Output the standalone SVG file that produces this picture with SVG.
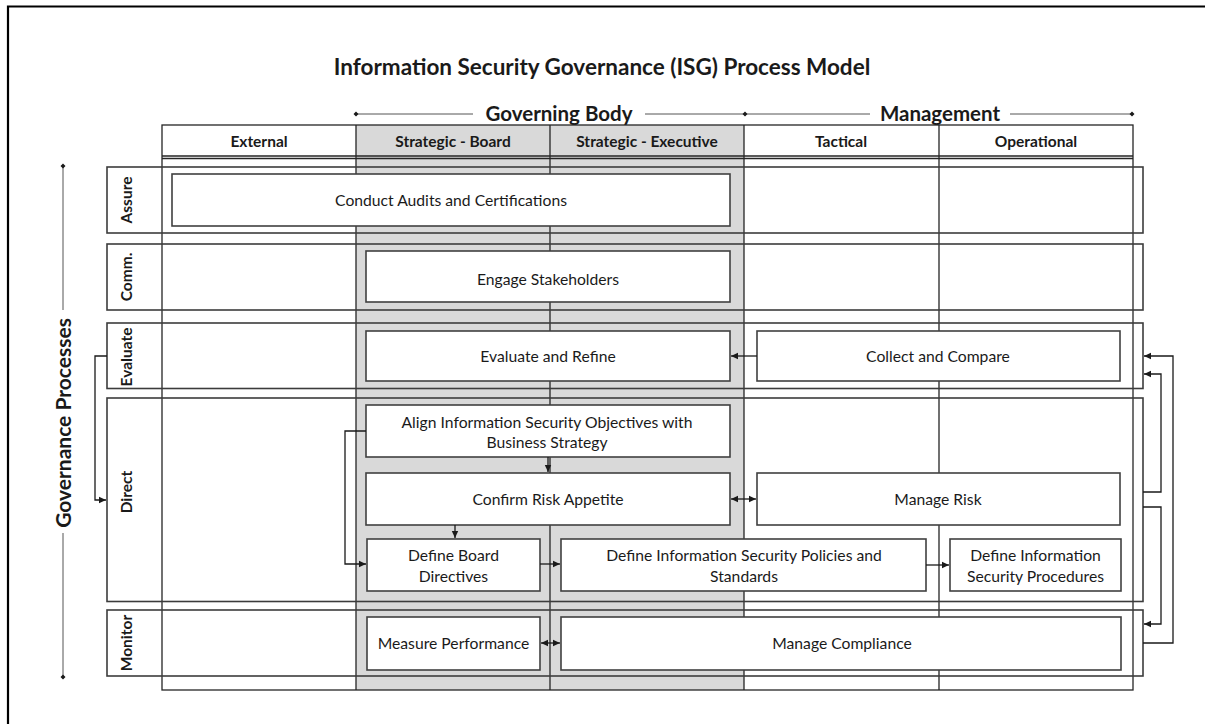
<svg xmlns="http://www.w3.org/2000/svg" width="1205" height="724" viewBox="0 0 1205 724">
<style>
.t{font-family:Lato,"Open Sans","Liberation Sans",sans-serif;fill:#1a1a1a}
.ti{font-size:22.5px;font-weight:bold}
.hd{font-size:20.5px;font-weight:bold}
.gp{font-size:21px;font-weight:bold}
.ch{font-size:15.5px;font-weight:bold}
.rl{font-size:15.5px;font-weight:bold}
.pt{font-size:15.7px}
.grid{stroke:#262626;stroke-width:1.3;fill:none}
.row{stroke:#3c3c3c;stroke-width:1.6;fill:none}
.box{fill:#fff;stroke:#404040;stroke-width:1.6}
.cn{stroke:#1a1a1a;stroke-width:1.3;fill:none}
.ln{stroke:#555;stroke-width:1;fill:none}
.dm{fill:#1a1a1a}
</style>
<defs>
<marker id="ah" markerUnits="userSpaceOnUse" markerWidth="8" markerHeight="8" refX="7" refY="4" orient="auto-start-reverse">
<path d="M0,0.8 L7,4 L0,7.2 Z" fill="#1a1a1a"/>
</marker>
</defs>
<rect width="1205" height="724" fill="#fff"/>
<path d="M8,724 V6.5 H1205" stroke="#000" stroke-width="2.2" fill="none"/>

<g id="title">
<text class="t ti" x="602" y="75" text-anchor="middle">Information Security Governance (ISG) Process Model</text>
</g>

<g id="header-groups">
<path class="ln" d="M356,114 H473 M645,114 H745 M745,114 H870 M1010,114 H1132"/>
<path class="dm" d="M356,111.5 L358.5,114 L356,116.5 L353.5,114 Z M745,111.5 L747.5,114 L745,116.5 L742.5,114 Z M1132,111.5 L1134.5,114 L1132,116.5 L1129.5,114 Z"/>
<text class="t hd" x="559" y="121" text-anchor="middle">Governing Body</text>
<text class="t hd" x="940" y="121" text-anchor="middle">Management</text>
</g>

<g id="governance-axis">
<path class="ln" d="M63,166 V310 M63,533 V677"/>
<path class="dm" d="M63,163.5 L65.5,166 L63,168.5 L60.5,166 Z M63,674.5 L65.5,677 L63,679.5 L60.5,677 Z"/>
<text class="t gp" transform="translate(71,423) rotate(-90)" text-anchor="middle">Governance Processes</text>
</g>

<g id="table">
<rect x="356" y="125" width="388" height="565" fill="#d9d9d9"/>
<rect class="grid" x="162" y="125" width="971" height="565"/>
<path class="grid" d="M356,125 V690 M550,125 V690 M744,125 V690 M939,125 V690 M162,156 H1133 M162,158.5 H1133"/>
<text class="t ch" x="259" y="146.5" text-anchor="middle">External</text>
<text class="t ch" x="453" y="146.5" text-anchor="middle">Strategic - Board</text>
<text class="t ch" x="647" y="146.5" text-anchor="middle">Strategic - Executive</text>
<text class="t ch" x="841" y="146.5" text-anchor="middle">Tactical</text>
<text class="t ch" x="1036" y="146.5" text-anchor="middle">Operational</text>
</g>

<g id="row-assure">
<rect class="row" x="107" y="167" width="1036" height="66"/>
<text class="t rl" transform="translate(132,200) rotate(-90)" text-anchor="middle">Assure</text>
</g>
<g id="row-comm">
<rect class="row" x="107" y="244" width="1036" height="66"/>
<text class="t rl" transform="translate(132,277) rotate(-90)" text-anchor="middle">Comm.</text>
</g>
<g id="row-evaluate">
<rect class="row" x="107" y="323" width="1036" height="65.5"/>
<text class="t rl" transform="translate(132,357) rotate(-90)" text-anchor="middle">Evaluate</text>
</g>
<g id="row-direct">
<rect class="row" x="107" y="398" width="1036" height="203.5"/>
<text class="t rl" transform="translate(132,492) rotate(-90)" text-anchor="middle">Direct</text>
</g>
<g id="row-monitor">
<rect class="row" x="107" y="610" width="1036" height="66"/>
<text class="t rl" transform="translate(132,643) rotate(-90)" text-anchor="middle">Monitor</text>
</g>

<g id="conduct-audits">
<rect class="box" x="172" y="174" width="558" height="52"/>
<text class="t pt" x="451" y="205.5" text-anchor="middle">Conduct Audits and Certifications</text>
</g>
<g id="engage-stakeholders">
<rect class="box" x="366" y="251" width="364" height="51"/>
<text class="t pt" x="548" y="284.5" text-anchor="middle">Engage Stakeholders</text>
</g>
<g id="evaluate-refine">
<rect class="box" x="366" y="331" width="364" height="50"/>
<text class="t pt" x="548" y="361.5" text-anchor="middle">Evaluate and Refine</text>
</g>
<g id="collect-compare">
<rect class="box" x="757" y="331" width="363" height="50"/>
<text class="t pt" x="938" y="361.5" text-anchor="middle">Collect and Compare</text>
</g>
<g id="align-objectives">
<rect class="box" x="366" y="405" width="364" height="52"/>
<text class="t pt" x="547" y="427.5" text-anchor="middle">Align Information Security Objectives with</text>
<text class="t pt" x="547" y="447.5" text-anchor="middle">Business Strategy</text>
</g>
<g id="confirm-risk">
<rect class="box" x="366" y="473" width="364" height="52"/>
<text class="t pt" x="548" y="504.5" text-anchor="middle">Confirm Risk Appetite</text>
</g>
<g id="manage-risk">
<rect class="box" x="757" y="473" width="363" height="52"/>
<text class="t pt" x="938" y="504.5" text-anchor="middle">Manage Risk</text>
</g>
<g id="define-board">
<rect class="box" x="367" y="539" width="173" height="52"/>
<text class="t pt" x="453.5" y="560.5" text-anchor="middle">Define Board</text>
<text class="t pt" x="453.5" y="581.5" text-anchor="middle">Directives</text>
</g>
<g id="define-policies">
<rect class="box" x="561" y="539" width="365" height="52"/>
<text class="t pt" x="744" y="560.5" text-anchor="middle">Define Information Security Policies and</text>
<text class="t pt" x="744" y="581.5" text-anchor="middle">Standards</text>
</g>
<g id="define-procedures">
<rect class="box" x="950" y="539" width="171" height="52"/>
<text class="t pt" x="1035.5" y="560.5" text-anchor="middle">Define Information</text>
<text class="t pt" x="1035.5" y="581.5" text-anchor="middle">Security Procedures</text>
</g>
<g id="measure-performance">
<rect class="box" x="367" y="617" width="173" height="53"/>
<text class="t pt" x="453.5" y="648.5" text-anchor="middle">Measure Performance</text>
</g>
<g id="manage-compliance">
<rect class="box" x="561" y="617" width="560" height="53"/>
<text class="t pt" x="842" y="648.5" text-anchor="middle">Manage Compliance</text>
</g>

<g id="connectors">
<path class="cn" d="M757,356 H731" marker-end="url(#ah)"/>
<path class="cn" d="M548,457 V472" marker-end="url(#ah)"/>
<path class="cn" d="M731,499 H756" marker-start="url(#ah)" marker-end="url(#ah)"/>
<path class="cn" d="M455,525 V538" marker-end="url(#ah)"/>
<path class="cn" d="M366,431 H345 V564 H366" marker-end="url(#ah)"/>
<path class="cn" d="M540,564 H560" marker-end="url(#ah)"/>
<path class="cn" d="M926,565 H949" marker-end="url(#ah)"/>
<path class="cn" d="M541,643 H560" marker-start="url(#ah)" marker-end="url(#ah)"/>
<path class="cn" d="M107,356 H95 V500 H106" marker-end="url(#ah)"/>
<path class="cn" d="M1143,643 H1173 V356 H1144" marker-end="url(#ah)"/>
<path class="cn" d="M1143,492 H1161 V374 H1144" marker-end="url(#ah)"/>
<path class="cn" d="M1143,507 H1161 V624 H1144" marker-end="url(#ah)"/>
</g>
</svg>
